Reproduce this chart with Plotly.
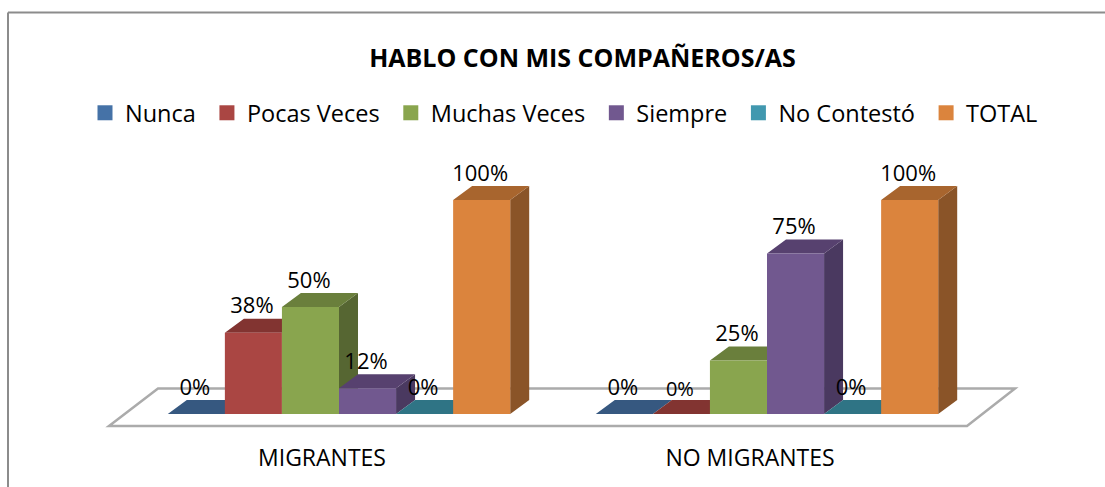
import plotly.graph_objects as go

categories = ["MIGRANTES", "NO MIGRANTES"]
series_names = ["Nunca", "Pocas Veces", "Muchas Veces", "Siempre", "No Contestó", "TOTAL"]
nunca = [0, 0]
pocas_veces = [38, 0]
muchas_veces = [50, 25]
siempre = [12, 75]
no_contesto = [0, 0]
total = [100, 100]
series_values = [nunca, pocas_veces, muchas_veces, siempre, no_contesto, total]

front_colors = ["#4572A7", "#AA4643", "#89A54E", "#71588F", "#4198AF", "#DB843D"]
top_colors = ["#365880", "#823431", "#6A7F3C", "#57416F", "#2F7485", "#A8652E"]
side_colors = ["#2E4A6C", "#6E2C2A", "#566632", "#4A3960", "#285F6C", "#8A5428"]

FONT = "Open Sans"
W, H = 1105, 487
L, R, T, B = 100, 75, 150, 47
PW, PH = W - L - R, H - T - B
X0, XU = 339.0, 428.0   # pixel of category 0, pixels per category
Y0, YU = 414.0, 2.14    # pixel of value 0, pixels per value unit
xr = [(L - X0) / XU, (W - R - X0) / XU]
yr = [(Y0 - (H - B)) / YU, (Y0 - T) / YU]
GAP = 0.2
BW = (1 - GAP) / len(series_names)
DX, DY = 19 / XU, 14 / YU
LABEL_UP = 25 / YU


def px_x(p):
    return (p - X0) / XU


def px_y(p):
    return (Y0 - p) / YU


fig = go.Figure()

# depth faces, left to right
for i, vals in enumerate(series_values):
    sx, sy, tx, ty = [], [], [], []
    for c, v in enumerate(vals):
        left = c + (i - 3) * BW
        right = left + BW
        sx += [right, right + DX, right + DX, right, right, None]
        sy += [0, DY, v + DY, v, 0, None]
        tx += [left, right, right + DX, left + DX, left, None]
        ty += [v, v, v + DY, v + DY, v, None]
    for xs, ys, col in ((sx, sy, side_colors[i]), (tx, ty, top_colors[i])):
        fig.add_trace(go.Scatter(x=xs, y=ys, mode="lines", fill="toself", fillcolor=col,
                                 line=dict(width=0, color=col), showlegend=False,
                                 hoverinfo="skip", xaxis="x", yaxis="y"))

# front faces
for i, vals in enumerate(series_values):
    fig.add_trace(go.Bar(x=list(range(len(categories))), y=vals, name=series_names[i],
                         marker=dict(color=front_colors[i], line=dict(width=0)),
                         showlegend=False, xaxis="x2", yaxis="y2"))

# data labels
for i, vals in enumerate(series_values):
    xs = [c + (i - 2.5) * BW - 1.5 / XU for c in range(len(categories))]
    ys = [v + LABEL_UP for v in vals]
    texts = [f"{v}%" for v in vals]
    sizes = [22, 22]
    if i == 1:
        sizes = [22, 20]
        ys[1] -= 2 / YU
    fig.add_trace(go.Scatter(x=xs, y=ys, mode="text", text=texts, textposition="middle center",
                             textfont=dict(family=FONT, size=sizes, color="#000000"),
                             cliponaxis=False,
                             showlegend=False, hoverinfo="skip", xaxis="x2", yaxis="y2"))

# legend entries (a trailing no-break space widens each entry's spacing)
for i, name in enumerate(series_names):
    fig.add_trace(go.Scatter(x=[None], y=[None], mode="markers", name=name + "\u00a0",
                             marker=dict(symbol="square", size=15, color=front_colors[i]),
                             xaxis="x2", yaxis="y2"))

# chart frame (top and left edges), in page pixels converted to paper units
fx = lambda p: (p - L) / PW
fy = lambda p: 1 - (p - T) / PH
shapes = [
    dict(type="line", xref="paper", yref="paper", x0=fx(8), x1=fx(1105), y0=fy(12.5), y1=fy(12.5),
         line=dict(color="#8C8C8C", width=2)),
    dict(type="line", xref="paper", yref="paper", x0=fx(8), x1=fx(8), y0=fy(12.5), y1=fy(487),
         line=dict(color="#8C8C8C", width=2)),
    dict(type="path", xref="x", yref="y", layer="below",
         path=f"M{px_x(109)},{px_y(426)} L{px_x(967)},{px_y(426)} L{px_x(1015)},{px_y(388.5)} "
              f"L{px_x(158)},{px_y(388.5)} Z",
         fillcolor="#FFFFFF", line=dict(color="#ABABAB", width=2.5)),
]

fig.update_layout(
    width=W, height=H,
    margin=dict(l=L, r=R, t=T, b=B, pad=0),
    paper_bgcolor="#FFFFFF", plot_bgcolor="rgba(0,0,0,0)",
    barmode="group", bargap=GAP, bargroupgap=0,
    title=dict(text="<b>HABLO CON MIS COMPAÑEROS/AS</b>", x=582.5 / W, xanchor="center",
               y=1 - 58 / H, yanchor="middle", font=dict(family=FONT, size=25, color="#000000")),
    legend=dict(orientation="h", x=fx(85), xanchor="left", y=fy(113), yanchor="middle",
                font=dict(family=FONT, size=23.5, color="#000000"), bgcolor="rgba(0,0,0,0)",
                traceorder="normal"),
    shapes=shapes,
    showlegend=True,
    xaxis=dict(range=xr, tickmode="array", tickvals=list(range(len(categories))),
               ticktext=categories, showgrid=False, zeroline=False, showline=False, ticks="",
               ticklabelshift=-17, ticklabelstandoff=2,
               tickfont=dict(family=FONT, size=23, color="#000000")),
    yaxis=dict(range=yr, visible=False, showgrid=False, zeroline=False),
    xaxis2=dict(range=xr, overlaying="x", visible=False, showgrid=False, zeroline=False),
    yaxis2=dict(range=yr, overlaying="y", visible=False, showgrid=False, zeroline=False),
)

fig.write_html("out.html", config=dict(displayModeBar=False),
               post_script="document.body.style.margin='0';document.body.style.overflow='hidden';")
